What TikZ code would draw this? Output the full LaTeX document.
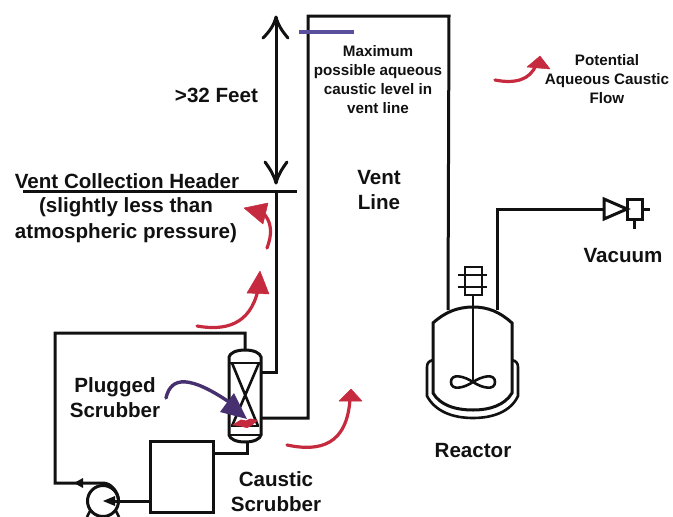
\documentclass[tikz,border=0pt]{standalone}
\usepackage{fontspec}
\setmainfont{Liberation Sans}
\definecolor{inkblack}{HTML}{111111}
\definecolor{flowred}{HTML}{C62A3F}
\definecolor{plugpurple}{HTML}{47306F}
\definecolor{levelblue}{HTML}{5A4F9F}
\begin{document}
\begin{tikzpicture}[x=1pt,y=-1pt,
  pipe/.style={draw=inkblack,line width=3pt,line join=miter},
  thin pipe/.style={draw=inkblack,line width=2.6pt},
  flow/.style={draw=flowred,line width=3.2pt,line cap=round},
  flowhead/.style={fill=flowred,draw=flowred,line width=.5pt,line join=round},
  biglabel/.style={font=\fontsize{20.6}{24}\selectfont\bfseries,text=inkblack,align=center,inner sep=0pt},
  smalllabel/.style={font=\fontsize{15.2}{19}\selectfont\bfseries,text=inkblack,align=center,inner sep=0pt}]
\useasboundingbox (0,0) rectangle (673,517);
% named points
\coordinate (hdrL) at (23,191);
\coordinate (hdrR) at (297,191);
\coordinate (hdrT) at (276,191);
\coordinate (colTopN) at (245,350);
\coordinate (colBotN) at (247,442);
\coordinate (colVent) at (261,372);
\coordinate (colOut) at (261,418);
\coordinate (reacIn) at (448,310);
\coordinate (reacOut) at (497,310);
\coordinate (valveIn) at (604,209);
\coordinate (tankOut) at (213,453);
\coordinate (tankPump) at (150,501);
\coordinate (pumpC) at (103,501);
% column
\draw[pipe] (229,357) .. controls (230,353) and (236,350) .. (245,350) .. controls (254,350) and (260,353) .. (261,357)
  -- (261,435) .. controls (260,439) and (254,442) .. (245,442) .. controls (236,442) and (230,439) .. (229,435) -- cycle;
\draw[thin pipe] (229,363) -- (261,363) (231,426) -- (259,426) (229,435) -- (261,435);
\draw[thin pipe] (232,363) -- (258,426) (259,363) -- (232,426);
% red plug
\fill[flowred] (232,425) -- (241,419.5) -- (246,420.5) -- (250,418.5) -- (258,420) -- (252,425.5) -- (247,428) -- (241,426.5) -- cycle;
% purple arrow
\draw[plugpurple,line width=3.4pt,line cap=round] (166,398) .. controls (171,376) and (190,375) .. (232,404);
\fill[plugpurple] (247,419) -- (234,393) -- (220,412) -- cycle;
% piping
\draw[pipe] (colTopN) -- (245,333) -- (55,333) -- (55,483) -- (103,483)
  .. controls (111,483) and (118.5,492) .. (118.5,501);
\draw[pipe] (colBotN) -- (247,453) -- (tankOut);
\draw[pipe] (colVent) -- (276,372) -- (hdrT);
\draw[pipe] (hdrL) -- (hdrR);
\draw[pipe] (colOut) -- (308,418) -- (308,16) -- (449,16) -- (reacIn);
\draw[pipe] (reacOut) -- (497,209) -- (valveIn);
% tank and pump
\draw[pipe,fill=white] (150,441) rectangle (213,512);
\draw[pipe] (tankPump) -- (115,501);
\draw[pipe] (pumpC) circle[radius=15.5];
\fill[inkblack] (103,501) -- (115,496) -- (115,506) -- cycle;
\fill[inkblack] (74,483) -- (83,478) -- (83,488) -- cycle;
\draw[thin pipe] (90,511) -- (87,517) (116,511) -- (119,517);
% dimension arrow
\draw[pipe] (276,17) -- (276,183);
\draw[pipe,line cap=round,line join=round] (263,38) .. controls (270,31) and (274,25) .. (276,17) .. controls (278,25) and (282,31) .. (288,38);
\draw[pipe,line cap=round,line join=round] (265,162) .. controls (270,169) and (274,175) .. (276,183) .. controls (278,175) and (282,169) .. (287,162);
% level mark
\draw[levelblue,line width=3.2pt] (299,32) -- (354,32);
% red arrows
\draw[flow] (267,248) .. controls (272,235) and (272,224) .. (265,215);
\fill[flowhead] (268,203) -- (244,208) -- (263,224) -- cycle;
\draw[flow] (197,326) .. controls (225,331) and (250,325) .. (258,290);
\fill[flowhead] (260,271) -- (247,293) -- (269,294) -- cycle;
\draw[flow] (287,445) .. controls (320,452) and (347,445) .. (350,399);
\fill[flowhead] (351,389) -- (339,401) -- (362,401) -- cycle;
\draw[flow] (495,80) .. controls (515,84) and (530,80) .. (536,65);
\fill[flowhead] (540,56) -- (527,67) -- (550,69) -- cycle;
% reactor
\draw[pipe] (433,393) -- (433,323) .. controls (445,312) and (458,307) .. (473,307)
  .. controls (488,307) and (500,312) .. (512,323) -- (512,393)
  .. controls (505,405) and (490,410) .. (473,410) .. controls (455,410) and (440,405) .. (433,393) -- cycle;
\draw[thin pipe] (433,360) .. controls (429,361) and (427,363) .. (427,367) -- (427,396)
  .. controls (435,411) and (452,418) .. (473,418) .. controls (494,418) and (511,411) .. (518,396) -- (518,367)
  .. controls (518,363) and (516,361) .. (512,360);
% agitator
\draw[thin pipe] (473,295) -- (473,382);
\draw[thin pipe,fill=white] (465,267) rectangle (482,295);
\draw[thin pipe] (458,275) -- (487,275) (458,287) -- (487,287);
\draw[thin pipe,line join=round] (473,382) .. controls (464,376) and (451,373) .. (451,382)
  .. controls (451,391) and (464,388) .. (473,382) .. controls (482,376) and (495,373) .. (495,382)
  .. controls (495,391) and (482,388) .. (473,382) -- cycle;
% vacuum
\draw[pipe,line join=miter] (valveIn) -- (604,219) -- (627,209) -- (604,199) -- cycle;
\draw[pipe] (627,199) rectangle (642,219);
\draw[pipe] (642,209) -- (650,209) (634,219) -- (634,229);
% labels
\node[biglabel] (feet) at (216.5,95) {>32 Feet};
\node[biglabel] (header) at (127,181) {Vent Collection Header};
\node[biglabel] (less) at (126,207) {(slightly less than};
\node[biglabel] (atm) at (126,233) {atmospheric pressure)};
\node[biglabel] (vent) at (379,190.5) {Vent\\[1pt]Line};
\node[biglabel] (vac) at (623,256) {Vacuum};
\node[biglabel] (reactor) at (473,451) {Reactor};
\node[biglabel] (plug) at (115,397.5) {Plugged\\[1pt]Scrubber};
\node[biglabel] (scrub) at (276,491.5) {Caustic\\[1pt]Scrubber};
\node[smalllabel] (max) at (378,79.5) {Maximum\\possible aqueous\\caustic level in\\vent line};
\node[smalllabel] (pot) at (607,79.5) {Potential\\Aqueous Caustic\\Flow};
\end{tikzpicture}
\end{document}
